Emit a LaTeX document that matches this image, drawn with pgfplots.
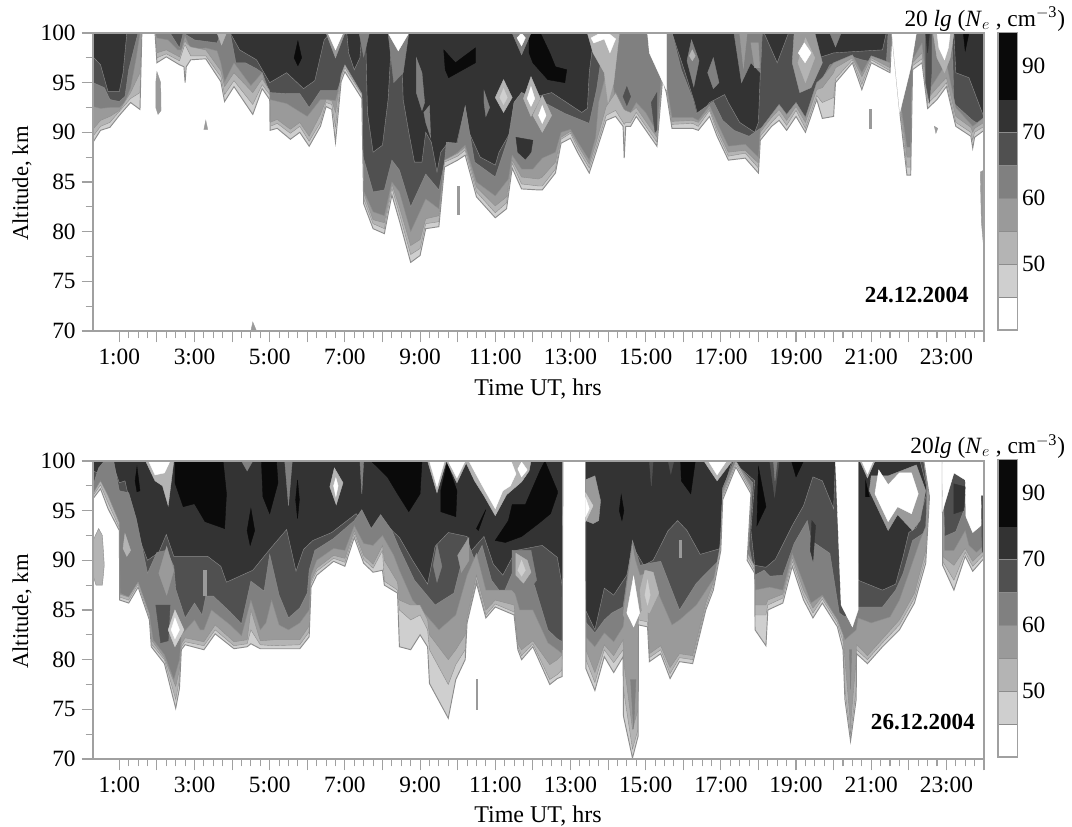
\documentclass[border=0pt]{standalone}
\usepackage{fontspec}
\setmainfont{Liberation Serif}
\usepackage{pgfplots}
\usepackage{pgfplotstable}
\pgfplotsset{compat=1.18}
\definecolor{cblk}{HTML}{0A0A0A}
\definecolor{cA}{HTML}{333333}
\definecolor{cB}{HTML}{505050}
\definecolor{cC}{HTML}{808080}
\definecolor{cD}{HTML}{9A9A9A}
\definecolor{cE}{HTML}{B4B4B4}
\definecolor{cF}{HTML}{CFCFCF}
\definecolor{axg}{HTML}{A0A0A0}
\definecolor{ln}{HTML}{8C8C8C}
\pgfplotsset{
 lev/.style={fill=#1,draw=ln,line width=.3pt,forget plot,mark=none},
 isl/.style={fill=#1,draw=#1,line width=.3pt,forget plot,mark=none},
 panel/.style={
  scale only axis,width=668.25pt,height=223.5pt,
  xmin=0.3,xmax=24,ymin=70,ymax=100,
  axis background/.style={fill=cA},
  axis on top,
  axis line style={axg,line width=.8pt},
  tick style={axg,line width=.8pt},
  major tick length=8.5pt,minor tick length=5.5pt,
  tick align=outside,xtick pos=bottom,ytick pos=left,
  xtick={1,2,...,24},
  xticklabels={1:00,,3:00,,5:00,,7:00,,9:00,,11:00,,13:00,,15:00,,17:00,,19:00,,21:00,,23:00,},
  minor x tick num=3,
  ytick={70,75,...,100},minor y tick num=1,
  tick label style={font=\fontsize{17.5}{19}\selectfont},
  /pgf/number format/assume math mode=true,
  xticklabel style={yshift=-1.5pt},
  yticklabel style={xshift=-1pt},
 },
 cbar/.style={
  scale only axis,width=14.5pt,height=223pt,
  xmin=0,xmax=1,ymin=0,ymax=9,
  axis on top,
  axis line style={axg,line width=.8pt},
  xtick=\empty,ytick={2,4,6,8},yticklabels={50,60,70,90},
  ytick pos=right,yticklabel pos=right,major tick length=0pt,
  tick label style={font=\fontsize{17.5}{19}\selectfont},
  /pgf/number format/assume math mode=true,
 }
}
\pgfplotstableread{
t c45 c50 c55
0.3 89 89.6 90.3
0.5 90.2 90.6 91.2
0.75 90.5 91 91.6
1 91.7 92.1 92.2
1.3 93 93.4 94
1.55 92.3 94 96
1.6 100 100 100
1.95 100 100 100
2.0 97 97.5 98
2.25 97.6 97.9 98.3
2.6 96.8 97.2 97.6
2.72 96.6 98.6 99
2.75 95 98.8 99.2
2.78 96.6 98.6 99
2.9 97.3 97.7 98.6
3.3 97.4 97.7 98.3
3.7 95.1 95.6 96.2
3.8 93.1 93.8 94.6
4.05 94.6 95.2 96
4.55 91.8 92.8 94
4.8 94.4 94.8 95.4
5 93.3 93.8 94.2
5.01 90.2 90.6 91
5.2 90.4 90.9 91.3
5.55 89.3 89.9 90.3
5.8 90 90.6 91
6.05 88.6 89.1 89.6
6.35 90.6 91 91.8
6.5 92.6 93 93.3
6.65 92.3 92.8 93.2
6.75 89 90.5 92
6.9 95.1 95.5 95.8
7 96.1 96.5 96.8
7.45 93.4 93.8 93.9
7.5 82.8 83.3 83.9
7.75 80.3 80.8 81.2
8.05 79.8 80.3 80.9
8.25 83.7 84.4 84.8
8.45 81.1 81.8 82.5
8.75 76.9 77.7 78.6
9 77.6 78.3 79.2
9.15 80.3 80.8 81.3
9.5 80.5 81 81.6
9.65 86.5 87 87.2
10 87.2 87.6 87.9
10.2 87.7 88.2 88.5
10.5 83.5 84 84.5
11 81.4 81.9 82.6
11.3 82.3 82.9 83.5
11.45 86.4 86.9 87.2
11.7 84.3 84.8 85.5
12.15 84.2 84.6 85.3
12.25 84.2 84.6 85.5
12.6 85.9 86.3 87
12.75 88.9 89.3 89.5
13 89.4 89.9 90.1
13.2 87.9 88.3 88.7
13.5 85.9 86.4 86.8
13.67 87.9 88.3 88.8
13.95 91.2 91.7 92.6
14.2 91.6 92.2 94
14.4 90.6 91 92.5
14.43 87.4 90.8 92.3
14.47 90.6 91 92.2
14.6 90.6 91 92
14.75 91.6 92 92.5
15.3 88.6 89 89.5
15.45 95.3 95.6 95.8
15.55 94 94.4 94.7
15.7 90.4 90.8 91.1
16.25 90.4 90.9 91.2
16.4 90.2 90.6 91
16.7 91.6 92.2 92.4
16.9 89.6 90 90.4
17.2 87.2 87.6 88
17.65 87.4 87.9 88.2
18 85.9 86.4 86.9
18.05 89.2 89.6 90
18.35 90.6 91 91.5
18.55 91.2 91.8 92.3
18.75 90.2 90.7 91.2
19 91.6 92.2 92.6
19.25 90 90.4 91
19.55 93.3 93.7 94.3
19.7 91.4 93 94.5
20 91.6 93.5 96
20.05 95 95.4 96.5
20.5 97 97.3 97.5
20.75 94.3 94.8 95.6
21 97 97.3 97.5
21.5 96 96.2 96.5
21.55 100 100 100
21.76 92 92.5 93
21.95 85.7 86.5 87.5
22.05 85.7 86.5 87.5
22.1 96.3 96.7 97
22.35 97 97.4 98
22.5 92.4 92.9 93.4
22.75 93.3 93.8 94.5
23 94.6 95 95.5
23.25 90.6 91 91.6
23.65 89.6 90 90.5
23.7 88.4 89.2 90
23.75 89.5 90 90.4
24 90.2 90.6 91
}\Pone
\pgfplotstableread{
t c45 c50 c55
0.3 96.2 96.5 96.7
0.5 97.2 97.6 98
0.7 95.2 95.8 96.5
1 93 93.3 93.8
1.01 86 86.3 86.6
1.25 85.7 86 86.3
1.5 87.3 87.6 87.8
1.8 84 84.3 84.6
1.85 81.3 81.6 82
2.2 79.6 80 80.2
2.5 75.1 76 77.3
2.6 77.1 78 79
2.65 81 81.3 81.6
2.75 81.5 81.8 82.2
3.25 81 81.4 81.8
3.55 82.6 83 83.5
4.05 81.1 81.4 81.8
4.4 81.3 81.6 82
4.5 81.6 83 85
4.75 81.1 81.5 81.9
5.1 81.1 81.4 82
5.8 81.1 81.5 82
6.05 82.3 82.8 83.4
6.1 87.3 87.7 88
6.25 88.5 88.9 89.2
6.7 89.9 90.2 90.5
7 89.4 89.8 90.2
7.25 92.3 92.7 93
7.5 89.7 90.1 90.5
7.75 88.8 89.2 89.6
8 89 91 91.5
8.05 87.5 87.9 90
8.4 86.7 87 87.8
8.45 81.3 85 86
8.75 81 84 85.5
9 82.5 84.5 85.5
9.2 81.3 83 84
9.25 77.6 81 82.5
9.75 74.1 77.5 80
9.95 78 79.5 81
10.2 80 81 82.5
10.25 83.7 84 84.3
10.5 87.7 88 88.5
10.75 84.2 84.5 85
11 85.3 85.6 86
11.5 84.5 84.8 85.5
11.6 81 81.3 81.6
11.7 80 80.4 81
12 81.3 81.6 81.9
12.45 77.5 78 79.5
12.65 78.1 78.5 80
12.78 78.3 79 80.5
12.8 100 100 100
13.4 100 100 100
13.41 79.1 80 81
13.65 76.9 77.7 78.7
13.9 80.3 81 81.5
14.15 78.7 79.7 80.4
14.4 80.3 81 82
14.41 74.3 77 80
14.65 70.1 71 73
14.8 72.3 73 75
14.81 83.5 84 84.5
15.05 83.3 83.8 86
15.1 79.8 80.2 80.6
15.4 80.6 81 81.4
15.65 78.1 78.6 79.2
15.9 79.8 80.2 80.6
16.25 79.6 80 80.4
16.6 85 85.3 85.7
16.8 87 87.4 87.8
17 91 91.4 91.8
17.05 96.1 96.4 96.7
17.4 99.4 99.7 100
17.8 96.7 97 97.3
17.7 90 90.4 90.8
17.9 88.7 89 89.4
17.91 83 84.5 85.5
18.2 81.4 84.5 85.5
18.25 85 85.5 86
18.65 85.7 86.2 86.6
18.9 89.4 89.9 90.3
19.2 86 86.5 87
19.45 84.2 84.7 85.2
19.7 85.7 86.1 86.4
20.1 83.3 83.7 84
20.25 81 81.8 82.5
20.3 76 77 80
20.45 71.8 72.5 73.5
20.6 76 77 80
20.61 80.6 81 81.5
20.9 79.6 80 80.4
21.3 81.3 81.7 82.1
21.75 83 83.5 84
22.15 85.7 86.2 86.7
22.45 89.7 90.3 91
22.55 96.4 96.8 97.2
22.4 100 100 100
22.89 100 100 100
22.9 89.5 89.9 90.4
23.2 87 88 89.5
23.5 90.4 90.8 91.2
23.7 88.9 89.4 89.9
24 90.2 90.6 91
}\Ptwo
\begin{document}
\begin{tikzpicture}
\path[use as bounding box] (0,0) rectangle (804pt,620.25pt);
% ---------- top panel
\begin{axis}[panel,at={(69.75pt,372pt)},anchor=south west]
\addplot[lev=cB] coordinates {(.3,97.6)(.5,96.8)(.7,94.1)(1,94.1)(1.1,96)(1.2,100)(3.95,100)(4.2,98.3)(4.65,97.3)(5,95)(5.45,96)(5.9,94.4)(6.2,95.2)(6.45,99.3)(6.6,100)(7.05,100)(7.1,98)(7.25,96.3)(7.4,97.5)(7.45,100)(7.55,100)(7.6,92)(7.75,88)(8,88.7)(8.15,93.3)(8.25,100)(8.5,100)(8.55,93.3)(8.7,90)(8.85,87)(9.05,87)(9.15,90)(9.3,89)(9.45,86)(9.55,88)(9.75,89)(9.95,88.5)(10.2,92.6)(10.3,90)(10.6,87.5)(11,86.7)(11.1,88)(11.4,90)(11.5,93)(11.7,94)(12,93.5)(12.5,94)(13.3,92)(13.45,92.4)(13.5,96)(13.6,99)(13.65,100)(15.7,100)(16.05,96)(16.3,93)(16.4,91.5)(16.7,93)(17.1,93.8)(17.2,93)(17.5,91)(17.9,90)(18,91)(18.05,96)(18.1,100)(18.15,100)(18.5,97)(18.8,100)(19.3,100)(19.6,97.5)(20,98)(21.3,98.3)(21.4,100)(23.2,100)(23.25,96)(23.6,95.5)(24,91.5)} \closedcycle;
\addplot[lev=cC] coordinates {(.3,95)(.6,94.5)(.75,93.3)(1,93.1)(1.15,93.6)(1.25,96.3)(1.45,99.3)(1.5,100)(2.35,100)(2.6,98.5)(2.7,100)(3,99.3)(3.6,99)(3.7,100)(3.95,100)(4.1,97)(4.35,97)(4.65,96.4)(4.8,96)(5,94)(5.45,93.9)(5.8,93.9)(6.05,92.5)(6.35,94.2)(6.8,94.2)(7,96.4)(7.4,93.6)(7.45,88)(7.75,84)(8.05,84.2)(8.25,87.2)(8.45,86.2)(8.75,82.5)(9.15,85.8)(9.5,84.2)(9.65,87)(9.7,89)(10,88.9)(10.2,92.6)(10.45,87)(11,85.5)(11.35,89.5)(11.5,93)(11.7,94)(12,93.4)(12.4,92.8)(12.85,91.9)(13.5,90.9)(13.7,94.4)(13.8,97)(13.9,100)(15.7,100)(15.95,96.3)(16.25,93.4)(16.35,91.9)(16.8,93.1)(17.05,91.2)(17.35,90.2)(17.75,89.6)(18.05,90.4)(18.55,91.1)(18.7,90.2)(18.95,91.6)(19.25,90.1)(19.45,93.6)(19.9,96.8)(20.5,97.6)(20.75,97.3)(21.4,96.8)(21.45,100)(23.15,100)(23.2,92.9)(23.7,91.2)(24,90.5)} \closedcycle;
\addplot[lev=cD] coordinates {(.3,92.6)(.5,92.4)(.75,92.5)(1,92.5)(1.15,93)(1.3,94.5)(1.45,97.5)(1.55,100)(1.95,100)(2,99.5)(2.3,99.3)(2.55,98.3)(2.65,98.3)(2.75,99.7)(2.9,98.3)(3.3,98.5)(3.6,98.2)(3.7,97)(3.8,95.1)(4.05,97)(4.5,94.7)(4.8,96)(5,93.3)(5.45,92.9)(6,91.6)(6.35,93.3)(6.55,93.3)(6.75,93.2)(6.95,96)(7.4,93.5)(7.45,84.5)(7.75,82)(8.05,81.6)(8.25,85)(8.45,84)(8.75,80)(9.15,83.3)(9.5,82.3)(9.65,86.9)(10,88)(10.2,88.7)(10.5,85)(11,83.6)(11.35,85.3)(11.45,87.7)(11.7,86.3)(12,86.3)(12.25,87.4)(12.6,88)(12.75,90)(13,90.3)(13.2,89)(13.5,87.2)(13.67,89.5)(13.75,93)(13.95,96)(14.1,96)(14.2,93)(14.4,92)(14.6,92)(14.75,93)(15,92)(15.3,90)(15.42,95.8)(15.55,95)(15.7,91.5)(16.25,91.5)(16.4,91.2)(16.7,92.7)(16.9,91)(17.2,88.6)(17.65,88.8)(18,87.5)(18.05,90.3)(18.35,91.8)(18.55,92.8)(18.75,91.8)(19,93)(19.25,91.5)(19.55,95)(19.7,95.5)(20,97)(20.5,97.8)(20.75,96)(21,97.7)(21.5,97)(21.55,100)(21.76,93.5)(21.95,88.5)(22.05,88.5)(22.1,97.3)(22.35,99)(22.5,94)(22.75,95.5)(23,97)(23.25,92.5)(23.7,90.6)(24,91.5)} \closedcycle;
\addplot[lev=cE] table[x=t,y=c55] {\Pone} \closedcycle;
\addplot[lev=cF] table[x=t,y=c50] {\Pone} \closedcycle;
\addplot[lev=white,line width=.7pt] table[x=t,y=c45] {\Pone} \closedcycle;
% islands
\addplot[isl=white] coordinates {(21.55,100)(22.2,100)(22.05,96.5)(21.76,92)} --cycle;
\addplot[isl=cD] coordinates {(2,96.1)(2.1,95)(2.11,92.2)(2.03,91.8)(1.97,92.5)(1.97,95)} --cycle;
\addplot[isl=cD] coordinates {(3.3,91.2)(3.35,90.3)(3.25,90.3)} --cycle;
\addplot[isl=cD] coordinates {(4.5,70)(4.55,70.9)(4.65,70)} --cycle;
\addplot[isl=cD] coordinates {(10,84.6)(10.05,84.6)(10.05,81.8)(10,81.8)} --cycle;
\addplot[isl=cD] coordinates {(20.95,92.3)(21,92.3)(21,90.4)(20.95,90.4)} --cycle;
\addplot[isl=cD] coordinates {(22.68,90.6)(22.77,90.4)(22.72,89.9)} --cycle;
\addplot[isl=cD] coordinates {(23.9,86)(24,86.2)(24,78)(23.93,81)} --cycle;
\addplot[isl=cB] coordinates {(14.5,94.6)(14.6,93.6)(14.5,92.7)(14.4,93.6)} --cycle;
\addplot[isl=cB] coordinates {(15.15,93)(15.3,94)(15.3,90.3)(15.25,90)} --cycle;
\addplot[isl=cA] coordinates {(11.55,89.5)(12,89.2)(11.95,88)(11.8,87.3)(11.6,88)} --cycle;
\addplot[isl=cC] coordinates {(8.9,97.5)(9.05,96)(9.12,93)(9.05,92.2)(8.9,94)} --cycle;
\addplot[isl=cC] coordinates {(9.1,92)(9.25,92.7)(9.28,89.5)(9.15,91)} --cycle;
\addplot[isl=cC] coordinates {(10.7,94.2)(10.85,92.5)(10.75,91.6)(10.7,93)} --cycle;
\addplot[isl=cC] coordinates {(8.15,100)(8.7,100)(8.55,96)(8.3,95)} --cycle;
\addplot[isl=cD] coordinates {(6.5,100)(7,100)(6.75,97.5)} --cycle;
\addplot[isl=cC] coordinates {(7.38,100)(7.65,100)(7.5,97.6)} --cycle;
\addplot[isl=cE] coordinates {(3.6,100)(3.85,100)(3.72,98.8)} --cycle;
\addplot[isl=cE] coordinates {(11.22,95.3)(11.45,93.5)(11.22,92)(11,93.5)} --cycle;
\addplot[isl=cF] coordinates {(11.22,94.4)(11.32,93.5)(11.22,92.8)(11.12,93.5)} --cycle;
\addplot[isl=cE] coordinates {(11.95,95.6)(12.2,93.4)(11.95,91.6)(11.75,93.4)} --cycle;
\addplot[isl=white] coordinates {(11.95,94.6)(12.05,93.4)(11.95,92.6)(11.85,93.4)} --cycle;
\addplot[isl=cE] coordinates {(12.25,93.7)(12.5,91.7)(12.25,90)(12,91.7)} --cycle;
\addplot[isl=white] coordinates {(12.25,92.7)(12.35,91.7)(12.25,90.9)(12.15,91.7)} --cycle;
\addplot[isl=cE] coordinates {(13.45,100)(14.3,100)(14.15,95)(14,93)(13.9,96)(13.6,98)} --cycle;
\addplot[isl=white] coordinates {(13.55,99.5)(13.8,100)(14,100)(14.2,99.4)(14.05,98)(13.9,99.4)(13.62,99)} --cycle;
\addplot[isl=white] coordinates {(15.05,100)(15.55,100)(15.55,94.3)(15.45,95.1)(15.1,98)} --cycle;
\addplot[isl=cC] coordinates {(16.22,99.3)(16.42,97.2)(16.28,94.6)(16.1,97.2)} --cycle;
\addplot[isl=cE] coordinates {(16.24,98.3)(16.32,97.7)(16.24,97.2)(16.16,97.7)} --cycle;
\addplot[isl=cC] coordinates {(16.8,97.5)(16.95,95)(16.8,94.4)(16.65,96)} --cycle;
\addplot[isl=cC] coordinates {(17.35,100)(18.1,100)(18.05,96)(17.8,97)(17.55,95)} --cycle;
\addplot[isl=cD] coordinates {(17.5,100)(17.7,100)(17.6,96.5)} --cycle;
\addplot[isl=cD] coordinates {(17.8,99)(18,99)(18.03,96.5)(17.9,96.5)} --cycle;
\addplot[isl=cD] coordinates {(18.95,100)(19.5,100)(19.7,97)(19.4,94.5)(19.1,94)(18.9,97)} --cycle;
\addplot[isl=cE] coordinates {(19.25,99.5)(19.5,97.5)(19.25,95)(19.05,97)} --cycle;
\addplot[isl=white] coordinates {(19.22,99)(19.4,98)(19.24,97)(19.06,98)} --cycle;
\addplot[isl=cC] coordinates {(19.9,100)(20.2,100)(20.05,98.6)} --cycle;
\addplot[isl=cB] coordinates {(22.45,100)(22.6,100)(22.6,96)(22.55,93)(22.45,95)} --cycle;
\addplot[isl=cA] coordinates {(22.45,100)(22.55,100)(22.5,98)} --cycle;
\addplot[isl=cE] coordinates {(22.65,100)(23.2,100)(23.1,97.5)(22.95,96)(22.75,97.5)} --cycle;
\addplot[isl=white] coordinates {(22.75,100)(23.1,100)(23.05,98.5)(22.95,97.3)(22.8,98.5)} --cycle;
% black patches
\addplot[isl=cblk] coordinates {(5.75,99.2)(5.85,97.5)(5.75,96.7)(5.65,97.5)} --cycle;
\addplot[isl=cblk] coordinates {(9.63,98.3)(9.94,97)(10.47,98.5)(10.47,97)(9.76,95.5)(9.67,96.3)} --cycle;
\addplot[isl=cblk] coordinates {(11.9,100)(12.2,100)(12.45,98)(12.6,96.6)(12.9,96.3)(12.85,95)(12.4,95.3)(12,97)(11.9,98)} --cycle;
\addplot[isl=cblk] coordinates {(23.45,100)(23.6,100)(23.5,98.2)} --cycle;
% white top patches
\addplot[isl=cC] coordinates {(11.45,100)(11.95,100)(11.7,97.8)} --cycle;
\addplot[isl=white] coordinates {(11.58,99.5)(11.7,100)(11.8,99.5)(11.7,98.7)} --cycle;
\addplot[isl=white] coordinates {(6.55,100)(6.95,100)(6.75,98.3)} --cycle;
\addplot[isl=white] coordinates {(8.15,100)(8.7,100)(8.42,98.2)} --cycle;
\node[font=\fontsize{17.3}{19}\selectfont\bfseries,anchor=east] at (axis cs:23.72,73.6) {24.12.2004};
\end{axis}
% ---------- bottom panel
\begin{axis}[panel,at={(69.75pt,51pt)},anchor=south west]
\addplot[lev=cB] coordinates {(.3,99)(.6,98.5)(.75,100)(.8,100)(1,97.8)(1.15,98)(1.3,95.5)(1.5,92.5)(1.75,90)(2.05,90.8)(2.25,92.6)(2.45,90.4)(3.35,90.4)(3.7,89.4)(3.85,87.8)(4.55,89)(5,91.1)(5.45,93.1)(5.7,88.9)(5.9,91.1)(6.15,92)(6.65,92.8)(7.3,94.7)(7.65,92.8)(7.95,94.1)(8.45,92.3)(8.8,90)(9.2,87.6)(9.4,91.4)(9.75,92.8)(10.25,92.4)(10.35,90.9)(10.7,92.4)(10.95,89.6)(11.2,88.5)(11.55,91)(12.25,91.5)(12.65,90.3)(12.8,87)(12.8,100)(13.4,100)(13.4,85)(13.65,83)(13.9,87.2)(14.15,86.5)(14.5,88.5)(14.65,91.4)(14.95,89.5)(15.2,90)(15.6,93)(15.85,94)(16.1,93)(16.45,90.6)(17,91.2)(17.1,97.5)(17.3,100)(17.9,98)(17.8,93)(17.9,89.5)(18.2,89.3)(18.45,90.1)(18.9,93.5)(19.2,95.5)(19.45,98.4)(19.7,98)(20,95.2)(20.05,100)(20.6,100)(20.65,88)(21.3,87)(21.65,87.6)(21.85,90.4)(22,92.8)(22.2,93.3)(22.5,97)(22.3,100)(24,100)} \closedcycle;
\addplot[lev=cC] coordinates {(.3,97.5)(.45,99.3)(.6,100)(.85,100)(1,97)(1.25,96.8)(1.45,94.2)(1.75,88.7)(2,90.8)(2.25,91)(2.45,89.4)(2.5,87.1)(2.75,84.2)(3,85.7)(3.2,84.5)(3.3,86.4)(3.5,86.4)(3.95,84.8)(4.25,83.6)(4.5,87.9)(4.85,86.9)(5,90.6)(5.25,86.5)(5.5,84.2)(5.8,85.2)(6,86.7)(6.05,89)(6.2,91)(6.7,92.2)(7.25,94)(7.45,95.1)(7.7,93.2)(7.95,94.6)(8.25,93)(8.45,91.2)(8.85,88)(9.4,85.5)(9.9,86.7)(10.15,90.5)(10.25,92)(10.45,90)(10.65,91.5)(10.9,88)(11.2,86.5)(11.45,88.7)(11.75,90)(12.05,87.4)(12.4,83)(12.65,82.1)(12.78,81.8)(12.8,100)(13.4,100)(13.4,83.8)(13.65,82.7)(13.9,84)(14.1,84.7)(14.4,85.3)(14.65,92)(14.85,89.5)(15.1,89.7)(15.4,89.9)(15.9,85)(16.35,87.7)(16.95,90)(17,93)(17.05,97.3)(17.35,100)(17.85,97.8)(17.75,91.5)(17.9,88.5)(18.15,89)(18.3,88.4)(18.65,88.5)(18.95,91.7)(19.3,94)(19.4,92)(19.9,90.7)(20.15,84.7)(20.3,84.3)(20.65,85.3)(21.3,85.3)(21.65,87)(21.85,88.7)(22.1,92)(22.5,93)(22.47,97.7)(22.4,100)(22.9,100)(22.95,92.4)(23.25,92.9)(23.5,95.4)(23.55,100)(24,100)} \closedcycle;
\addplot[lev=cD] coordinates {(.3,96.7)(.5,97)(.7,95.6)(.85,94.5)(1,92)(1.02,86.7)(1.25,86.3)(1.5,87.8)(1.8,84.5)(1.9,82)(2.2,80.5)(2.45,78)(2.6,80)(2.65,82.5)(3,84)(3.15,83)(3.25,83)(3.45,85)(3.95,83.5)(4.25,82.4)(4.5,86)(4.75,83)(4.9,83.7)(5.05,86)(5.25,83.5)(5.5,83)(5.8,83.7)(6.05,85)(6.1,88.5)(6.25,90)(6.7,91.2)(7,91)(7.25,93.5)(7.5,91.7)(7.75,91.5)(8,92.5)(8.3,90.5)(8.45,89)(8.8,86)(9.2,84.3)(9.5,83)(9.95,84.5)(10.25,88.5)(10.5,90.7)(10.75,87)(11,87)(11.5,87)(11.65,85)(12,85)(12.4,81.7)(12.65,81)(12.78,80.6)(12.8,100)(13.4,100)(13.4,82.3)(13.65,81.3)(13.9,82.7)(14.15,81.8)(14.4,83.3)(14.55,87.7)(14.65,91)(14.85,88.5)(15.1,88.8)(15.3,87)(15.7,83.5)(15.9,84)(16.35,85.5)(16.9,88.7)(17,92)(17.05,97)(17.4,100)(17.8,97.5)(17.7,91)(17.9,87)(18.3,87.3)(18.65,87)(18.9,90.7)(19.2,87.7)(19.4,85.7)(19.7,86.5)(20.1,84)(20.3,82)(20.6,83)(20.65,84.2)(21,83.7)(21.5,84.3)(21.75,86)(22,88.7)(22.3,92)(22.45,93.4)(22.5,97.8)(22.4,100)(22.9,100)(22.95,91)(23.2,91)(23.5,93)(23.6,91.5)(23.8,90.8)(24,91.5)} \closedcycle;
\addplot[lev=cE] table[x=t,y=c55] {\Ptwo} \closedcycle;
\addplot[lev=cF] table[x=t,y=c50] {\Ptwo} \closedcycle;
\addplot[lev=white,line width=.7pt] table[x=t,y=c45] {\Ptwo} \closedcycle;
% white top-right
\addplot[isl=white] coordinates {(22.89,100)(24,100)(24,96)(23.92,93.5)(23.7,92.8)(23.52,94.4)(23.5,98.1)(23.2,98.8)(22.9,95)} --cycle;
\addplot[isl=cA] coordinates {(23.2,97.7)(23.5,97.4)(23.45,95)(23.2,94.7)} --cycle;
\addplot[isl=cB] coordinates {(23.93,96.5)(24,96.5)(24,90.5)(23.95,91)} --cycle;
\addplot[isl=white] coordinates {(20.05,100)(20.65,100)(20.65,85)(20.5,83.3)(20.2,85.5)} --cycle;
% islands
\addplot[lev=cE] coordinates {(.3,88.5)(.38,87.5)(.55,87.5)(.6,89.5)(.55,92.5)(.45,93.2)(.3,92)} --cycle;
\addplot[isl=cD] coordinates {(2.26,91.4)(2.45,89)(2.26,86.5)(2.05,88.7)} --cycle;
\addplot[isl=cB] coordinates {(1.97,85.5)(2.35,85.5)(2.3,81.9)(2.1,81.7)} --cycle;
\addplot[isl=cF] coordinates {(2.48,85)(2.72,83)(2.48,81.3)(2.3,83)} --cycle;
\addplot[isl=white] coordinates {(2.48,84.2)(2.6,83)(2.48,82.1)(2.38,83)} --cycle;
\addplot[isl=cE] coordinates {(1.15,92.7)(1.3,91)(1.2,90.4)(1.1,91.2)} --cycle;
\addplot[isl=cD] coordinates {(3.22,89)(3.3,89)(3.3,86.5)(3.22,86.5)} --cycle;
\addplot[isl=cC] coordinates {(5.4,100)(5.6,100)(5.5,95.5)} --cycle;
\addplot[isl=cC] coordinates {(4.25,100)(4.55,100)(4.4,99)} --cycle;
\addplot[isl=cC] coordinates {(7.4,100)(7.5,100)(7.45,96.7)} --cycle;
\addplot[isl=cC] coordinates {(9.45,91.6)(9.58,89.4)(9.45,87.8)(9.35,89.5)} --cycle;
\addplot[isl=cD] coordinates {(10,90.5)(10.3,92.3)(10.3,90)(10.1,88.8)} --cycle;
\addplot[isl=cC] coordinates {(11.45,91)(11.95,91)(12.1,88)(11.7,86)(11.45,87)} --cycle;
\addplot[isl=cE] coordinates {(11.55,90.7)(11.85,90)(11.95,88.8)(11.75,87.7)(11.55,88.5)} --cycle;
\addplot[isl=cF] coordinates {(11.7,90)(11.8,89)(11.7,88.4)(11.6,89)} --cycle;
\addplot[isl=cD] coordinates {(10.48,78)(10.52,78)(10.52,75)(10.48,75)} --cycle;
\addplot[isl=cD] coordinates {(13.4,98.1)(13.65,98.5)(13.8,96)(13.75,94)(13.6,93.7)(13.4,94)} --cycle;
\addplot[isl=cF] coordinates {(13.4,96.8)(13.6,95.5)(13.4,93.9)} --cycle;
\addplot[isl=white] coordinates {(13.4,96.3)(13.5,95.2)(13.4,94.4)} --cycle;
\addplot[isl=cB] coordinates {(15.1,100)(15.2,100)(15.15,97.5)} --cycle;
\addplot[isl=cB] coordinates {(15.6,100)(15.75,100)(15.67,98.7)} --cycle;
\addplot[isl=cE] coordinates {(16.55,100)(17.3,100)(16.9,98)} --cycle;
\addplot[isl=white] coordinates {(16.67,100)(17.15,100)(16.9,98.6)} --cycle;
\addplot[isl=cB] coordinates {(18.3,100)(18.55,100)(18.43,96.4)} --cycle;
\addplot[isl=cC] coordinates {(18.4,100)(18.5,100)(18.44,98)} --cycle;
\addplot[isl=cD] coordinates {(14.4,84.5)(14.65,91.5)(14.9,85.5)(14.68,82.5)} --cycle;
\addplot[isl=white] coordinates {(14.5,84.7)(14.68,88.4)(14.84,84.7)(14.68,83.3)} --cycle;
\addplot[isl=cC] coordinates {(14.6,78)(14.68,73)(14.74,78)} --cycle;
\addplot[isl=cE] coordinates {(14.98,89)(15.2,88.8)(15.35,86.7)(15.1,84.7)(14.9,85)(14.85,87)} --cycle;
\addplot[isl=cF] coordinates {(15.05,88)(15.12,86.5)(15.05,85.5)(14.98,86.5)} --cycle;
\addplot[isl=cD] coordinates {(15.9,92)(15.95,92)(15.95,90.3)(15.9,90.3)} --cycle;
\addplot[isl=cA] coordinates {(19.42,94)(19.52,93.5)(19.45,90)(19.38,91)} --cycle;
\addplot[isl=cD] coordinates {(20.38,80)(20.45,73)(20.52,80)} --cycle;
\addplot[isl=cC] coordinates {(20.42,81)(20.45,77)(20.48,81)} --cycle;
% black patches
\addplot[isl=cblk] coordinates {(2.48,100)(3.76,100)(3.85,96.7)(3.8,93.2)(3.28,93.9)(3,95.7)(2.7,95.4)(2.48,97.8)} --cycle;
\addplot[isl=cblk] coordinates {(4.78,100)(5.18,100)(5.22,97.8)(5,94.7)(4.82,96.4)} --cycle;
\addplot[isl=cblk] coordinates {(4.5,95.2)(4.6,93)(4.48,91.5)(4.4,93)} --cycle;
\addplot[isl=cblk] coordinates {(5.74,98.1)(5.79,96.1)(5.74,94.2)(5.69,96.1)} --cycle;
\addplot[isl=cblk] coordinates {(1.47,99.4)(1.55,97)(1.47,96.9)(1.42,98)} --cycle;
\addplot[isl=cblk] coordinates {(7.7,100)(9.05,100)(9,96.7)(8.7,94.9)(8.4,96.7)(8.13,98.4)} --cycle;
\addplot[isl=cblk] coordinates {(9.72,99.8)(9.98,97)(9.95,94.4)(9.55,94.9)(9.55,97)} --cycle;
\addplot[isl=cblk] coordinates {(10.5,93.2)(10.75,95.1)(10.55,93)} --cycle;
\addplot[isl=cblk] coordinates {(11,92)(11.35,94)(11.45,95.6)(11.8,95.6)(12.2,99.1)(12.32,100)(12.65,97)(12.65,96.7)(12.47,94.7)(12.15,93.7)(11.7,92.4)(11.27,91.8)} --cycle;
\addplot[isl=cblk] coordinates {(15.93,100)(16.32,100)(16.2,96.7)(15.95,98)} --cycle;
\addplot[isl=cblk] coordinates {(14.35,96.6)(14.42,95)(14.37,94)(14.3,95)} --cycle;
\addplot[isl=cblk] coordinates {(18,99.4)(18.2,95.4)(17.96,93.5)} --cycle;
\addplot[isl=cblk] coordinates {(18.88,100)(19.2,100)(19,98.4)} --cycle;
\addplot[isl=cblk] coordinates {(20.85,98)(20.95,96.4)(20.85,96.4)} --cycle;
% white top patches
\addplot[isl=cE] coordinates {(1.7,100)(2.45,100)(2.3,95.5)(2.15,97.5)(1.95,98)} --cycle;
\addplot[isl=white] coordinates {(1.78,100)(2.35,100)(2.2,98.8)(1.95,98.6)} --cycle;
\addplot[isl=cE] coordinates {(6.72,99.3)(6.95,97.8)(6.77,95.6)(6.6,97.4)} --cycle;
\addplot[isl=white] coordinates {(6.76,98.3)(6.82,97.5)(6.76,96.4)(6.7,97.5)} --cycle;
\addplot[isl=cE] coordinates {(9.2,100)(9.7,100)(9.45,96.8)} --cycle;
\addplot[isl=white] coordinates {(9.25,100)(9.65,100)(9.45,97.4)} --cycle;
\addplot[isl=cE] coordinates {(9.7,100)(10.25,100)(9.98,97.8)} --cycle;
\addplot[isl=white] coordinates {(9.75,100)(10.2,100)(9.98,98.3)} --cycle;
\addplot[isl=cE] coordinates {(10.2,100)(11.95,100)(11.9,99)(11.7,97.9)(11.3,96.6)(11,94.5)(10.7,96.5)(10.45,98)} --cycle;
\addplot[isl=white] coordinates {(10.3,100)(11.42,100)(11.55,98.7)(11.4,97.5)(11.2,97)(11,95.2)(10.73,97)(10.47,98.8)} --cycle;
\addplot[isl=white] coordinates {(11.7,99.9)(11.85,99.1)(11.7,98.4)(11.6,99.2)} --cycle;
\addplot[isl=cD] coordinates {(21,98.5)(21.45,98.5)(22.2,99.6)(22.45,97)(22.3,94)(22.1,93)(21.7,94.6)(21.45,93)(20.95,97)} --cycle;
\addplot[isl=white] coordinates {(21.2,99.1)(21.45,97.6)(21.75,98.8)(22.07,98.8)(22.25,96.7)(22.07,94.7)(21.7,95.4)(21.45,93.9)(21.1,96.7)} --cycle;
\addplot[isl=cE] coordinates {(20.7,100)(21.1,100)(20.9,98.3)} --cycle;
\addplot[isl=white] coordinates {(20.75,100)(21.05,100)(20.9,98.7)} --cycle;
\node[font=\fontsize{17.3}{19}\selectfont\bfseries,anchor=east] at (axis cs:23.88,73.7) {26.12.2004};
\end{axis}
% ---------- colour bars
\foreach \bx/\by in {748.5pt/372.75pt,748.5pt/52.5pt}{
\begin{axis}[cbar,at={(\bx,\by)},anchor=south west]
\addplot[isl=white,draw=ln] coordinates {(0,0)(1,0)(1,1)(0,1)} --cycle;
\addplot[isl=cF,draw=ln] coordinates {(0,1)(1,1)(1,2)(0,2)} --cycle;
\addplot[isl=cE,draw=ln] coordinates {(0,2)(1,2)(1,3)(0,3)} --cycle;
\addplot[isl=cD,draw=ln] coordinates {(0,3)(1,3)(1,4)(0,4)} --cycle;
\addplot[isl=cC,draw=ln] coordinates {(0,4)(1,4)(1,5)(0,5)} --cycle;
\addplot[isl=cB,draw=ln] coordinates {(0,5)(1,5)(1,6)(0,6)} --cycle;
\addplot[isl=cA,draw=ln] coordinates {(0,6)(1,6)(1,7)(0,7)} --cycle;
\addplot[isl=cblk] coordinates {(0,7)(1,7)(1,9)(0,9)} --cycle;
\end{axis}
}
% ---------- texts
\node[font=\fontsize{17}{19}\selectfont,inner sep=0pt,rotate=90] at (16.5pt,482.5pt) {Altitude, km};
\node[font=\fontsize{17}{19}\selectfont,inner sep=0pt,rotate=90] at (16.5pt,161.5pt) {Altitude, km};
\node[font=\fontsize{18}{20}\selectfont,inner sep=0pt] at (403.5pt,328.5pt) {Time UT, hrs};
\node[font=\fontsize{18}{20}\selectfont,inner sep=0pt] at (403.5pt,8pt) {Time UT, hrs};
\node[font=\fontsize{17.5}{20}\selectfont,inner sep=0pt,anchor=east] at (799pt,606pt) {20 \textit{lg} (\textit{N}$_{e}$ , cm$^{\mathrm{-3}}$)};
\node[font=\fontsize{17.5}{20}\selectfont,inner sep=0pt,anchor=east] at (799pt,285.5pt) {20\textit{lg} (\textit{N}$_{e}$ , cm$^{\mathrm{-3}}$)};
\end{tikzpicture}
\end{document}
